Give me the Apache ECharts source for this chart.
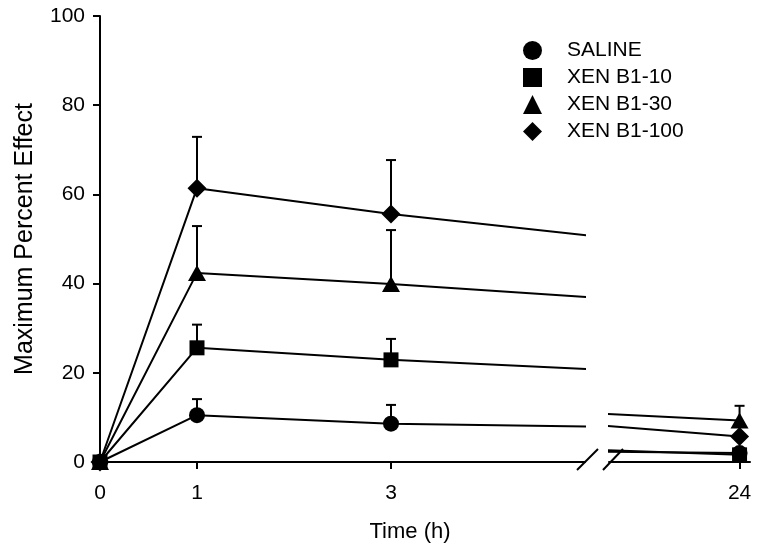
<!DOCTYPE html>
<html>
<head>
<meta charset="utf-8">
<script src="https://cdn.jsdelivr.net/npm/echarts@6/dist/echarts.min.js"></script>
<style>
html,body{margin:0;padding:0;background:#fff;}
#chart{width:759px;height:552px;}
</style>
</head>
<body>
<div id="chart"></div>
<script>
// ---- data ----
const timePoints = [0, 1, 3, 24];
const groupNames = ['SALINE', 'XEN B1-10', 'XEN B1-30', 'XEN B1-100'];
const salineMean = [0, 10.5, 8.6, 2.0];
const salineUpper = [0, 14.1, 12.8, 2.8];
const xen10Mean = [0, 25.6, 22.9, 1.6];
const xen10Upper = [0, 30.8, 27.6, 2.4];
const xen30Mean = [0, 42.4, 39.9, 9.3];
const xen30Upper = [0, 52.9, 52.0, 12.6];
const xen100Mean = [0, 61.4, 55.6, 5.7];
const xen100Upper = [0, 72.9, 67.7, 8.0];
const xTickLeft = [0, 1, 3];
const xTickRight = [24];
const yTicks = [0, 20, 40, 60, 80, 100];

const means = [salineMean, xen10Mean, xen30Mean, xen100Mean];
const uppers = [salineUpper, xen10Upper, xen30Upper, xen100Upper];
const symbols = ['circle', 'rect', 'triangle', 'diamond'];
const symbolSizes = [16, 15, [18, 16], [19, 19]];

const FONT = 'Liberation Sans, Arial, sans-serif';
const chart = echarts.init(document.getElementById('chart'));

const LEFT_MAX = 5, RIGHT_MIN = 23, RIGHT_MAX = 24.08;

function errItem(params, api) {
  const x = api.value(0), y = api.value(1), hi = api.value(2);
  const p0 = api.coord([x, y]);
  const p1 = api.coord([x, hi]);
  return {
    type: 'group',
    children: [
      {type: 'line', shape: {x1: p0[0], y1: p0[1], x2: p1[0], y2: p1[1]}, style: {stroke: '#000', lineWidth: 2}},
      {type: 'line', shape: {x1: p1[0] - 5, y1: p1[1], x2: p1[0] + 5, y2: p1[1]}, style: {stroke: '#000', lineWidth: 2}}
    ]
  };
}

const series = [];
// error bars
for (let g = 0; g < 4; g++) {
  const leftErr = [], rightErr = [];
  timePoints.forEach((t, i) => {
    if (uppers[g][i] <= means[g][i]) return;
    const row = [t, means[g][i], uppers[g][i]];
    if (t <= LEFT_MAX) leftErr.push(row); else rightErr.push(row);
  });
  series.push({type: 'custom', xAxisIndex: 0, yAxisIndex: 0, renderItem: errItem, data: leftErr, encode: {x: 0, y: [1, 2]}, z: 1, silent: true});
  series.push({type: 'custom', xAxisIndex: 1, yAxisIndex: 1, renderItem: errItem, data: rightErr, encode: {x: 0, y: [1, 2]}, z: 1, silent: true});
}
// lines + markers
for (let g = 0; g < 4; g++) {
  const pts = timePoints.map((t, i) => [t, means[g][i]]);
  const common = {
    type: 'line', name: groupNames[g], symbol: symbols[g], symbolSize: symbolSizes[g],
    showAllSymbol: true, clip: true,
    lineStyle: {color: '#000', width: 2}, itemStyle: {color: '#000', borderWidth: 0},
    z: 2 + g, animation: false, emphasis: {disabled: true}
  };
  series.push(Object.assign({}, common, {xAxisIndex: 0, yAxisIndex: 0, data: pts}));
  series.push(Object.assign({}, common, {xAxisIndex: 1, yAxisIndex: 1, data: pts.filter(p => p[0] >= 3)}));
}

const axisLine = {show: true, lineStyle: {color: '#000', width: 2}};
const option = {
  animation: false,
  textStyle: {fontFamily: FONT},
  grid: [
    {left: 100, right: 759 - 585, top: 16, bottom: 552 - 462, containLabel: false},
    {left: 609, right: 759 - 750, top: 16, bottom: 552 - 462, containLabel: false}
  ],
  xAxis: [
    {type: 'value', gridIndex: 0, min: 0, max: LEFT_MAX, splitLine: {show: false},
     axisLine: Object.assign({onZero: false}, axisLine),
     axisTick: {show: true, length: 7, lineStyle: {color: '#000', width: 2}, customValues: xTickLeft},
     axisLabel: {customValues: xTickLeft, color: '#000', fontSize: 21, margin: 21, fontFamily: FONT}},
    {type: 'value', gridIndex: 1, min: RIGHT_MIN, max: RIGHT_MAX, splitLine: {show: false},
     axisLine: Object.assign({onZero: false}, axisLine),
     axisTick: {show: true, length: 7, lineStyle: {color: '#000', width: 2}, customValues: xTickRight},
     axisLabel: {customValues: xTickRight, color: '#000', fontSize: 21, margin: 21, fontFamily: FONT}}
  ],
  yAxis: [
    {type: 'value', gridIndex: 0, min: 0, max: 100, interval: 20, splitLine: {show: false},
     axisLine: axisLine,
     axisTick: {show: true, length: 7, lineStyle: {color: '#000', width: 2}},
     axisLabel: {color: '#000', fontSize: 21, margin: 15, fontFamily: FONT},
     name: 'Maximum Percent Effect', nameLocation: 'middle', nameGap: 62,
     nameTextStyle: {color: '#000', fontSize: 25, fontFamily: FONT}},
    {type: 'value', gridIndex: 1, min: 0, max: 100, interval: 20, show: false}
  ],
  legend: {
    orient: 'vertical', left: 518, top: 35, itemWidth: 19, itemHeight: 19, itemGap: 6,
    selectedMode: false,
    textStyle: {color: '#000', fontSize: 21, lineHeight: 19, fontFamily: FONT, padding: [0, 0, 0, 20]},
    data: groupNames.map((n, i) => ({name: n, icon: symbols[i]}))
  },
  graphic: [
    {type: 'line', shape: {x1: 577, y1: 470, x2: 598, y2: 449}, style: {stroke: '#000', lineWidth: 2}},
    {type: 'line', shape: {x1: 603, y1: 470, x2: 623, y2: 449}, style: {stroke: '#000', lineWidth: 2}},
    {type: 'text', x: 410, y: 532, style: {text: 'Time (h)', fontSize: 22, fontFamily: FONT, fill: '#000', align: 'center', verticalAlign: 'middle'}}
  ],
  series: series
};
chart.setOption(option);
</script>
</body>
</html>
